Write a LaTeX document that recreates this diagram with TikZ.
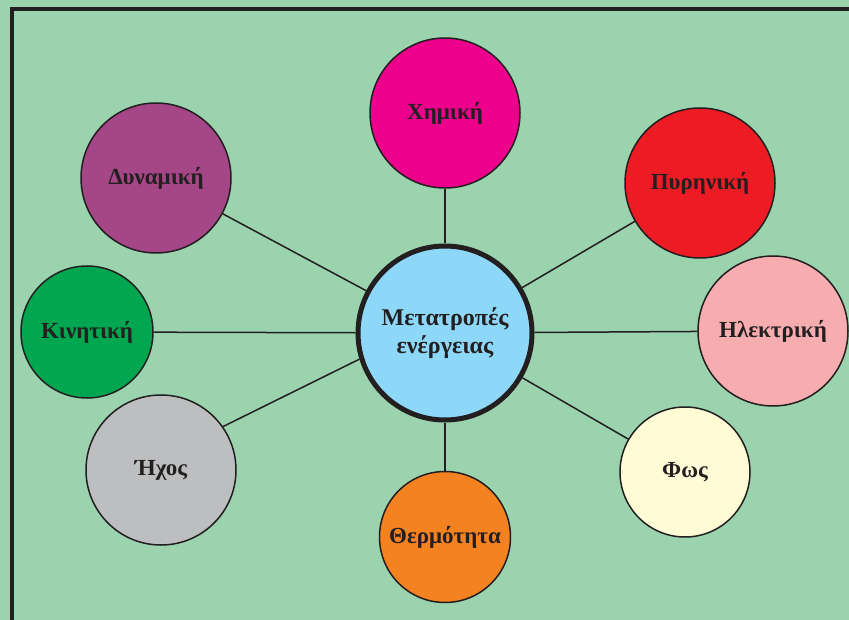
\documentclass[tikz,border=0pt]{standalone}
\usepackage{fontspec}
\setmainfont{Liberation Serif}
\usepackage{tikz}
\usetikzlibrary{calc,positioning}
\definecolor{bggreen}{HTML}{9AD3AD}
\definecolor{frameblack}{HTML}{231F20}
\definecolor{hubblue}{HTML}{8DD8F8}
\definecolor{chemmag}{HTML}{EC008C}
\definecolor{nuclred}{HTML}{ED1C24}
\definecolor{elecpink}{HTML}{F7ACB0}
\definecolor{lightyel}{HTML}{FFFBD5}
\definecolor{heatorng}{HTML}{F58220}
\definecolor{soundgry}{HTML}{BCBEC0}
\definecolor{kingreen}{HTML}{00A650}
\definecolor{potpurp}{HTML}{A54687}

\tikzset{
  energy/.style={circle, draw=frameblack, line width=1.5pt, minimum size=#1,
    inner sep=0pt, font=\bfseries\fontsize{23}{26}\selectfont, text=frameblack},
  energy/.default=150pt,
  hub/.style={circle, draw=frameblack, line width=5pt, fill=hubblue,
    minimum size=174pt, inner sep=0pt, align=center,
    font=\bfseries\fontsize{24}{28}\selectfont, text=frameblack},
  spoke/.style={draw=frameblack, line width=1.5pt}
}

\begin{document}
\begin{tikzpicture}[x=1pt, y=-1pt]
  \useasboundingbox (0,0) rectangle (849,620);
  \fill[bggreen] (0,0) rectangle (849,620);
  \draw[frameblack, line width=4pt] (11.5,620) -- (11.5,9) -- (849,9);

  % centre and the forms of energy round it
  \node[hub] (hub) at (445,333) {Μετατροπές\\ενέργειας};
  \node[energy, fill=chemmag] (chem) at (445,113) {Χημική};
  \node[energy, fill=nuclred] (nucl) at (700,183) {Πυρηνική};
  \node[energy, fill=elecpink] (elec) at (773,331) {Ηλεκτρική};
  \node[energy=130pt, fill=lightyel] (light) at (685,472) {Φως};
  \node[energy=131pt, fill=heatorng] (heat) at (445,537) {Θερμότητα};
  \node[energy, fill=soundgry] (sound) at (161,470) {Ήχος};
  \node[energy=132pt, fill=kingreen] (kin) at (87,332) {Κινητική};
  \node[energy, fill=potpurp] (pot) at (156,178) {Δυναμική};

  \foreach \n in {chem,nucl,elec,light,heat,kin,pot}
    \draw[spoke] (hub) -- (\n);
  \draw[spoke] (hub.197) -- (sound.35);
\end{tikzpicture}
\end{document}
